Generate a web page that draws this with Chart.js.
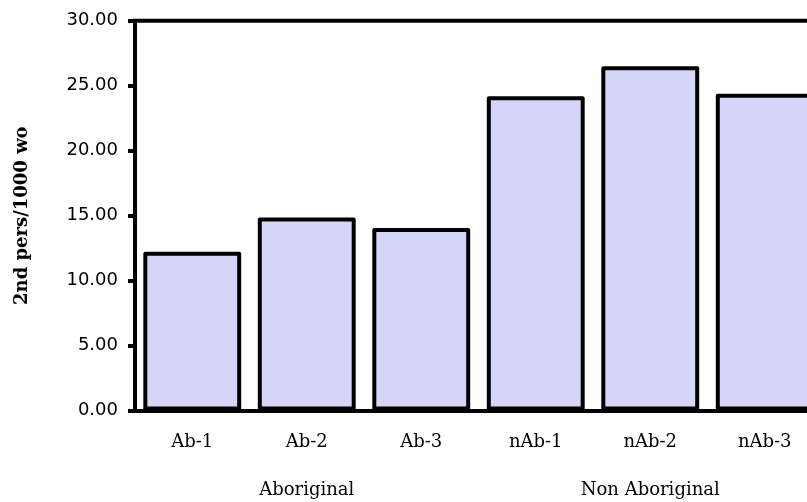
<!DOCTYPE html>
<html>
<head>
<meta charset="utf-8">
<script src="https://cdn.jsdelivr.net/npm/chart.js@4/dist/chart.umd.min.js"></script>
<style>
  html, body { margin: 0; padding: 0; overflow: hidden; background: #fff; }
  #wrap { width: 822px; height: 502px; }
</style>
</head>
<body>
<div id="wrap"><canvas id="c" width="822" height="502"></canvas></div>
<script>
// Second-person rate per 1000, by sub-group
const categories = ['Ab-1', 'Ab-2', 'Ab-3', 'nAb-1', 'nAb-2', 'nAb-3'];
const rates = [12.06, 14.71, 13.90, 24.04, 26.34, 24.23];
const groups = [
  { label: 'Aboriginal', from: 0, to: 2 },
  { label: 'Non Aboriginal', from: 3, to: 5 }
];
const yTitle = '2nd pers/1000 wo';
const yMin = 0, yMax = 30, yStep = 5;

// Bar outlines centred on the bar edges, plus the top frame line
const outlinePlugin = {
  id: 'barOutline',
  afterDatasetsDraw(chart) {
    const ctx = chart.ctx;
    const a = chart.chartArea;
    ctx.save();
    ctx.lineWidth = 4;
    ctx.strokeStyle = '#000';
    ctx.lineJoin = 'round';
    chart.getDatasetMeta(0).data.forEach(bar => {
      const p = bar.getProps(['x', 'y', 'base', 'width'], true);
      ctx.strokeRect(p.x - p.width / 2, p.y, p.width, p.base - p.y);
    });
    ctx.beginPath();
    ctx.moveTo(a.left - 2, a.top);
    ctx.lineTo(a.right, a.top);
    ctx.lineTo(a.right, a.bottom);
    ctx.stroke();
    ctx.restore();
  }
};

// Group captions centred under their categories
const groupPlugin = {
  id: 'groupLabels',
  afterDraw(chart) {
    const ctx = chart.ctx;
    const xs = chart.scales.x;
    ctx.save();
    ctx.font = '18px "DejaVu Serif"';
    ctx.fillStyle = '#000';
    ctx.textAlign = 'center';
    ctx.textBaseline = 'alphabetic';
    groups.forEach(g => {
      const cx = (xs.getPixelForValue(g.from) + xs.getPixelForValue(g.to)) / 2;
      ctx.fillText(g.label, cx, 495);
    });
    ctx.restore();
  }
};

new Chart(document.getElementById('c'), {
  type: 'bar',
  data: {
    labels: categories,
    datasets: [{
      data: rates,
      backgroundColor: 'rgb(214,214,250)',
      borderWidth: 0,
      barPercentage: 0.82,
      categoryPercentage: 1.0
    }]
  },
  options: {
    responsive: false,
    devicePixelRatio: 1,
    animation: false,
    layout: { padding: { top: 20, right: 0, bottom: 0, left: 0 } },
    plugins: { legend: { display: false }, tooltip: { enabled: false } },
    scales: {
      x: {
        grid: { display: false, drawTicks: false },
        border: { display: true, color: '#000', width: 4 },
        ticks: {
          color: '#000',
          font: { family: 'DejaVu Serif', size: 18 },
          padding: 21,
          maxRotation: 0
        },
        afterFit(scale) { scale.height = 91.5; }
      },
      y: {
        min: yMin,
        max: yMax,
        grid: { display: true, drawOnChartArea: false, drawTicks: true, tickLength: 7, lineWidth: 4, color: '#000' },
        border: { display: true, color: '#000', width: 4 },
        ticks: {
          stepSize: yStep,
          color: '#000',
          padding: 10,
          font: { family: 'DejaVu Sans', size: 18 },
          callback: v => Number(v).toFixed(2)
        },
        title: {
          display: true,
          text: yTitle,
          color: '#000',
          font: { family: 'DejaVu Serif', size: 18, weight: 'bold' },
          padding: { top: 12, bottom: 0 }
        },
        afterFit(scale) { scale.width = 135; }
      }
    }
  },
  plugins: [outlinePlugin, groupPlugin]
});
</script>
</body>
</html>
